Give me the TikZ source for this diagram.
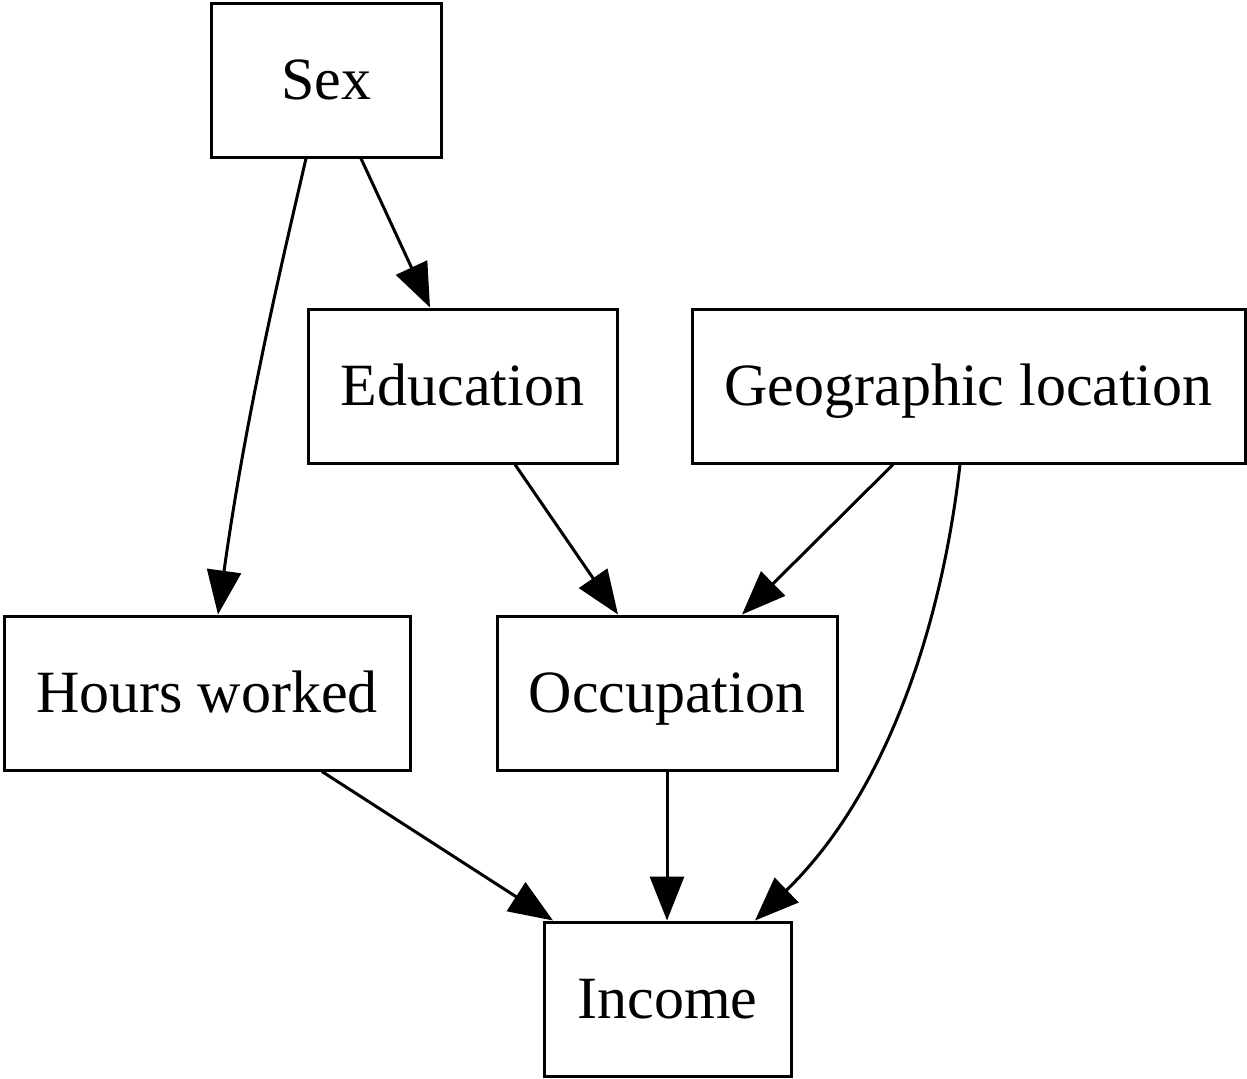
\documentclass[tikz,border=0pt]{standalone}
\usepackage{fontspec}
\setmainfont{Liberation Serif}
\usetikzlibrary{arrows.meta}
\begin{document}
\begin{tikzpicture}[x=0.5pt,y=-0.5pt,
  box/.style={draw,line width=1.5pt,inner sep=0pt,text height=22pt,text depth=3pt,font=\fontsize{30}{36}\selectfont},
  edge/.style={line width=1.5pt,-{Triangle[length=22pt,width=17pt]}}]
\useasboundingbox (0,0) rectangle (1247,1078);
\node[box,minimum width=115pt,minimum height=77pt] (sex) at (326,80) {Sex};
\node[box,minimum width=154.5pt,minimum height=77pt] (edu) at (462.5,386) {Education};
\node[box,minimum width=276.5pt,minimum height=77pt] (geo) at (968.5,386) {Geographic location};
\node[box,minimum width=203pt,minimum height=77pt] (hours) at (207,693) {Hours worked};
\node[box,minimum width=170pt,minimum height=77pt] (occ) at (667,693) {Occupation};
\node[box,minimum width=123.5pt,minimum height=77pt] (inc) at (667.5,999) {Income};
\draw[edge] ([xshift=-10pt]sex.south) .. controls (280,270) and (245,420) .. ([xshift=5.5pt]hours.north);
\draw[edge] ([xshift=17.5pt]sex.south) -- ([xshift=-16.25pt]edu.north);
\draw[edge] ([xshift=26.25pt]edu.south) -- ([xshift=-24.5pt]occ.north);
\draw[edge] ([xshift=-37.75pt]geo.south) -- ([xshift=37.5pt]occ.north);
\draw[edge] ([xshift=-4.25pt]geo.south) .. controls (940,640) and (880,800) .. ([xshift=43.75pt]inc.north);
\draw[edge] ([xshift=57.5pt]hours.south) -- ([xshift=-57.25pt]inc.north);
\draw[edge] (occ.south) -- (occ.south |- inc.north);
\end{tikzpicture}
\end{document}
